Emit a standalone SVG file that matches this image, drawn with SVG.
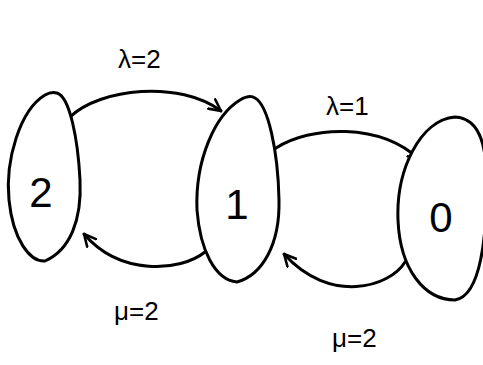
<svg xmlns="http://www.w3.org/2000/svg" width="483" height="365" viewBox="0 0 483 365">
<defs>
<marker id="ah" viewBox="0 0 12 12" refX="11" refY="6" markerWidth="14" markerHeight="14" markerUnits="userSpaceOnUse" orient="auto">
<path d="M1,1 L11,6 L1,11" fill="none" stroke="#000" stroke-width="2.2" stroke-linecap="round" stroke-linejoin="round"/>
</marker>
<style>
.node{fill:#fff;stroke:#000;stroke-width:3;stroke-linejoin:round}
.edge{fill:none;stroke:#000;stroke-width:3;stroke-linecap:round;marker-end:url(#ah)}
.num{font-family:"Liberation Sans",Arial,sans-serif;font-size:42px;fill:#000;text-anchor:middle}
.lbl{font-family:"Liberation Sans",Arial,sans-serif;font-size:26px;fill:#000}
</style>
</defs>
<rect width="483" height="365" fill="#fff"/>
<g id="connectors">
<path class="edge" d="M70,117 C100,88 180,80 221,111"/>
<path class="edge" d="M276,148 C310,126 380,122 420,160"/>
<path class="edge" d="M205,252 C180,272 120,276 84,234"/>
<path class="edge" d="M405,262 C390,287 330,305 284,254"/>
</g>
<g id="node2">
<path class="node" d="M57,93 C70,97 78,140 80,180 C82,220 70,250 45,261 C30,262 13,240 9,200 C5,160 20,110 45,95 C50,92 54,92 57,93 Z"/>
<text class="num" x="41" y="207">2</text>
</g>
<g id="node1">
<path class="node" d="M255,98 C268,105 278,150 279,200 C280,245 262,275 237,282 C215,280 200,250 197,210 C195,160 215,115 240,100 C247,96 252,96 255,98 Z"/>
<text class="num" x="237" y="219">1</text>
</g>
<g id="node0">
<path class="node" d="M455,117 C475,118 485,135 486,170 C488,240 480,296 455,300 C425,300 400,270 398,220 C396,170 420,120 455,117 Z"/>
<text class="num" x="441" y="232">0</text>
</g>
<g id="labels">
<text class="lbl" x="118" y="68">λ=2</text>
<text class="lbl" x="326" y="115">λ=1</text>
<text class="lbl" x="114" y="320">μ=2</text>
<text class="lbl" x="332" y="347">μ=2</text>
</g>
</svg>
